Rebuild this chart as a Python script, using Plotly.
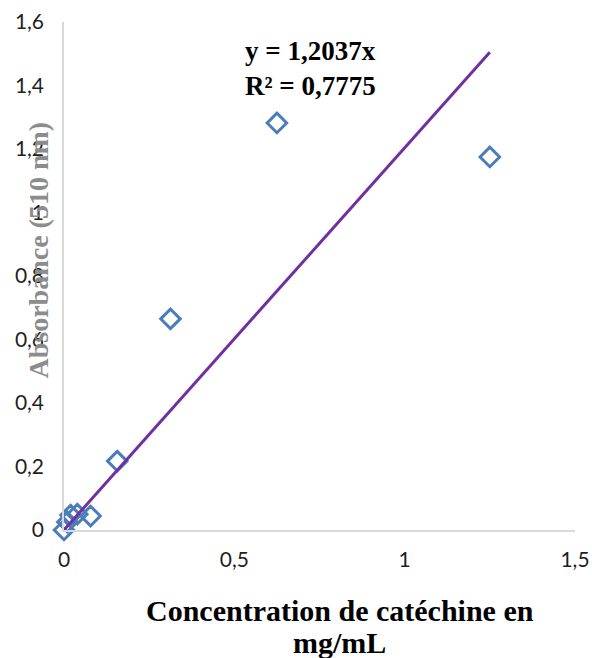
import plotly.graph_objects as go

# Data
concentration = [0, 0.0098, 0.0195, 0.039, 0.078, 0.15625, 0.3125, 0.625, 1.25]
absorbance = [0.0, 0.025, 0.047, 0.05, 0.044, 0.217, 0.665, 1.282, 1.175]
slope = 1.2037
r2 = 0.7775
x_ticks = [0, 0.5, 1, 1.5]
y_ticks = [0, 0.2, 0.4, 0.6, 0.8, 1.0, 1.2, 1.4, 1.6]

trend_x = [0, max(concentration)]
trend_y = [slope * v for v in trend_x]

fig = go.Figure()
fig.add_trace(go.Scatter(
    x=concentration, y=absorbance, mode="markers",
    marker=dict(symbol="diamond-open", size=15, color="#4A7EBB", line=dict(width=3, color="#4A7EBB")),
    showlegend=False, cliponaxis=False,
))
fig.add_trace(go.Scatter(
    x=trend_x, y=trend_y, mode="lines",
    line=dict(color="#7030A0", width=3),
    showlegend=False, cliponaxis=False,
))

tick_font = dict(family="Lato, Carlito, sans-serif", size=21, color="#1F1F1F")
serif = "Liberation Serif, Times New Roman, serif"
fig.update_layout(
    width=592, height=658,
    margin=dict(l=64, r=17, t=22, b=128),
    paper_bgcolor="white", plot_bgcolor="white",
    separators=", ",
    xaxis=dict(range=[0, 1.5], tickvals=x_ticks, showgrid=False, zeroline=False,
               showline=True, linecolor="#D9D9D9", linewidth=1.5, automargin=False,
               ticks="", tickfont=tick_font, ticklabelstandoff=10),
    yaxis=dict(range=[0, 1.6], tickvals=y_ticks, showgrid=False, zeroline=False,
               showline=True, linecolor="#D9D9D9", linewidth=1.5, automargin=False,
               ticks="", tickfont=tick_font, ticklabelstandoff=14),
    annotations=[
        dict(text="y = 1,2037x<br>R² = 0,7775", xref="paper", yref="paper",
             x=0.483, y=0.908, xanchor="center", yanchor="middle", align="left",
             showarrow=False,
             font=dict(family=serif, size=27, color="black", weight="bold")),
        dict(text="Absorbance (510 nm)", xref="paper", yref="paper",
             x=-0.05, y=0.551, xanchor="center", yanchor="middle", textangle=-90,
             showarrow=False,
             font=dict(family=serif, size=28, color="#8C8C8C", weight="bold")),
        dict(text="Concentration de catéchine en", xref="paper", yref="paper",
             x=0.54, y=-0.159, xanchor="center", yanchor="middle",
             showarrow=False,
             font=dict(family=serif, size=30, color="black", weight="bold")),
        dict(text="mg/mL", xref="paper", yref="paper",
             x=0.54, y=-0.222, xanchor="center", yanchor="middle",
             showarrow=False,
             font=dict(family=serif, size=30, color="black", weight="bold")),
    ],
)

fig.write_html("out.html")
